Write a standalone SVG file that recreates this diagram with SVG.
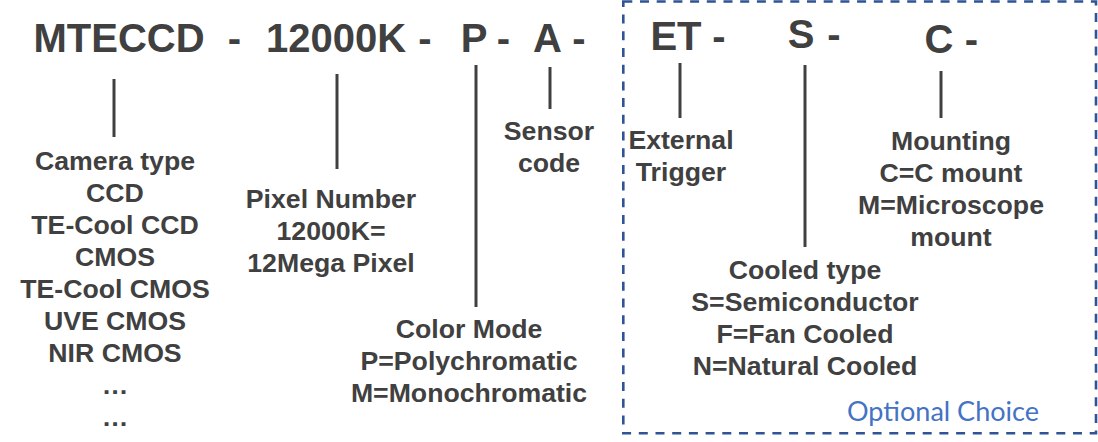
<svg xmlns="http://www.w3.org/2000/svg" width="1098" height="442" viewBox="0 0 1098 442">
<style>
.code{font-family:"Liberation Sans",Arial,sans-serif;font-weight:bold;font-size:40px;fill:#404040;text-anchor:middle}
.lbl{font-family:"Liberation Sans",Arial,sans-serif;font-weight:bold;font-size:26.67px;fill:#404040;text-anchor:middle}
.opt{font-family:Lato,"Open Sans",sans-serif;font-size:26px;fill:#4472C4}
.conn line{stroke:#404040;stroke-width:3}
</style>
<rect width="1098" height="442" fill="#ffffff"/>
<g id="optional-box">
<rect x="623.3" y="1.5" width="472.7" height="431.8" fill="none" stroke="#2F5496" stroke-width="2.6" stroke-dasharray="9 7.7"/>
<text class="opt" x="847" y="421" textLength="192" lengthAdjust="spacingAndGlyphs">Optional Choice</text>
</g>
<g id="code-row">
<text class="code" x="119" y="52">MTECCD</text>
<text class="code" x="234.5" y="52">-</text>
<text class="code" x="336" y="52">12000K</text>
<text class="code" x="425" y="52">-</text>
<text class="code" x="474" y="52">P</text>
<text class="code" x="503.5" y="52">-</text>
<text class="code" x="547.5" y="52">A</text>
<text class="code" x="579" y="52">-</text>
<text class="code" x="676" y="50">ET</text>
<text class="code" x="719" y="50">-</text>
<text class="code" x="801" y="48">S</text>
<text class="code" x="834" y="48">-</text>
<text class="code" x="939" y="53">C</text>
<text class="code" x="971.5" y="53">-</text>
</g>
<g id="camera-type">
<text class="lbl" x="115" y="169.5">Camera type</text>
<text class="lbl" x="115" y="201.5">CCD</text>
<text class="lbl" x="115" y="233.5">TE-Cool CCD</text>
<text class="lbl" x="115" y="265.5">CMOS</text>
<text class="lbl" x="115" y="297.5">TE-Cool CMOS</text>
<text class="lbl" x="115" y="329.5">UVE CMOS</text>
<text class="lbl" x="115" y="361.5">NIR CMOS</text>
<text class="lbl" x="115" y="393.5">…</text>
<text class="lbl" x="115" y="425.5">…</text>
</g>
<g id="pixel-number">
<text class="lbl" x="331" y="208">Pixel Number</text>
<text class="lbl" x="331" y="240">12000K=</text>
<text class="lbl" x="331" y="272">12Mega Pixel</text>
</g>
<g id="sensor-code">
<text class="lbl" x="549" y="140">Sensor</text>
<text class="lbl" x="549" y="172">code</text>
</g>
<g id="color-mode">
<text class="lbl" x="469" y="338">Color Mode</text>
<text class="lbl" x="469" y="370">P=Polychromatic</text>
<text class="lbl" x="469" y="402">M=Monochromatic</text>
</g>
<g id="external-trigger">
<text class="lbl" x="681" y="149">External</text>
<text class="lbl" x="681" y="181">Trigger</text>
</g>
<g id="cooled-type">
<text class="lbl" x="805" y="279">Cooled type</text>
<text class="lbl" x="805" y="311">S=Semiconductor</text>
<text class="lbl" x="805" y="343">F=Fan Cooled</text>
<text class="lbl" x="805" y="375">N=Natural Cooled</text>
</g>
<g id="mounting">
<text class="lbl" x="951" y="150">Mounting</text>
<text class="lbl" x="951" y="182">C=C mount</text>
<text class="lbl" x="951" y="214">M=Microscope</text>
<text class="lbl" x="951" y="246">mount</text>
</g>
<g id="connectors" class="conn">
<line x1="114" y1="79" x2="114" y2="137"/>
<line x1="337" y1="74" x2="337" y2="169"/>
<line x1="476" y1="65" x2="476" y2="307"/>
<line x1="550" y1="67" x2="550" y2="109"/>
<line x1="680" y1="63" x2="680" y2="118"/>
<line x1="805" y1="65" x2="805" y2="247"/>
<line x1="941" y1="71" x2="941" y2="118"/>
</g>
</svg>
